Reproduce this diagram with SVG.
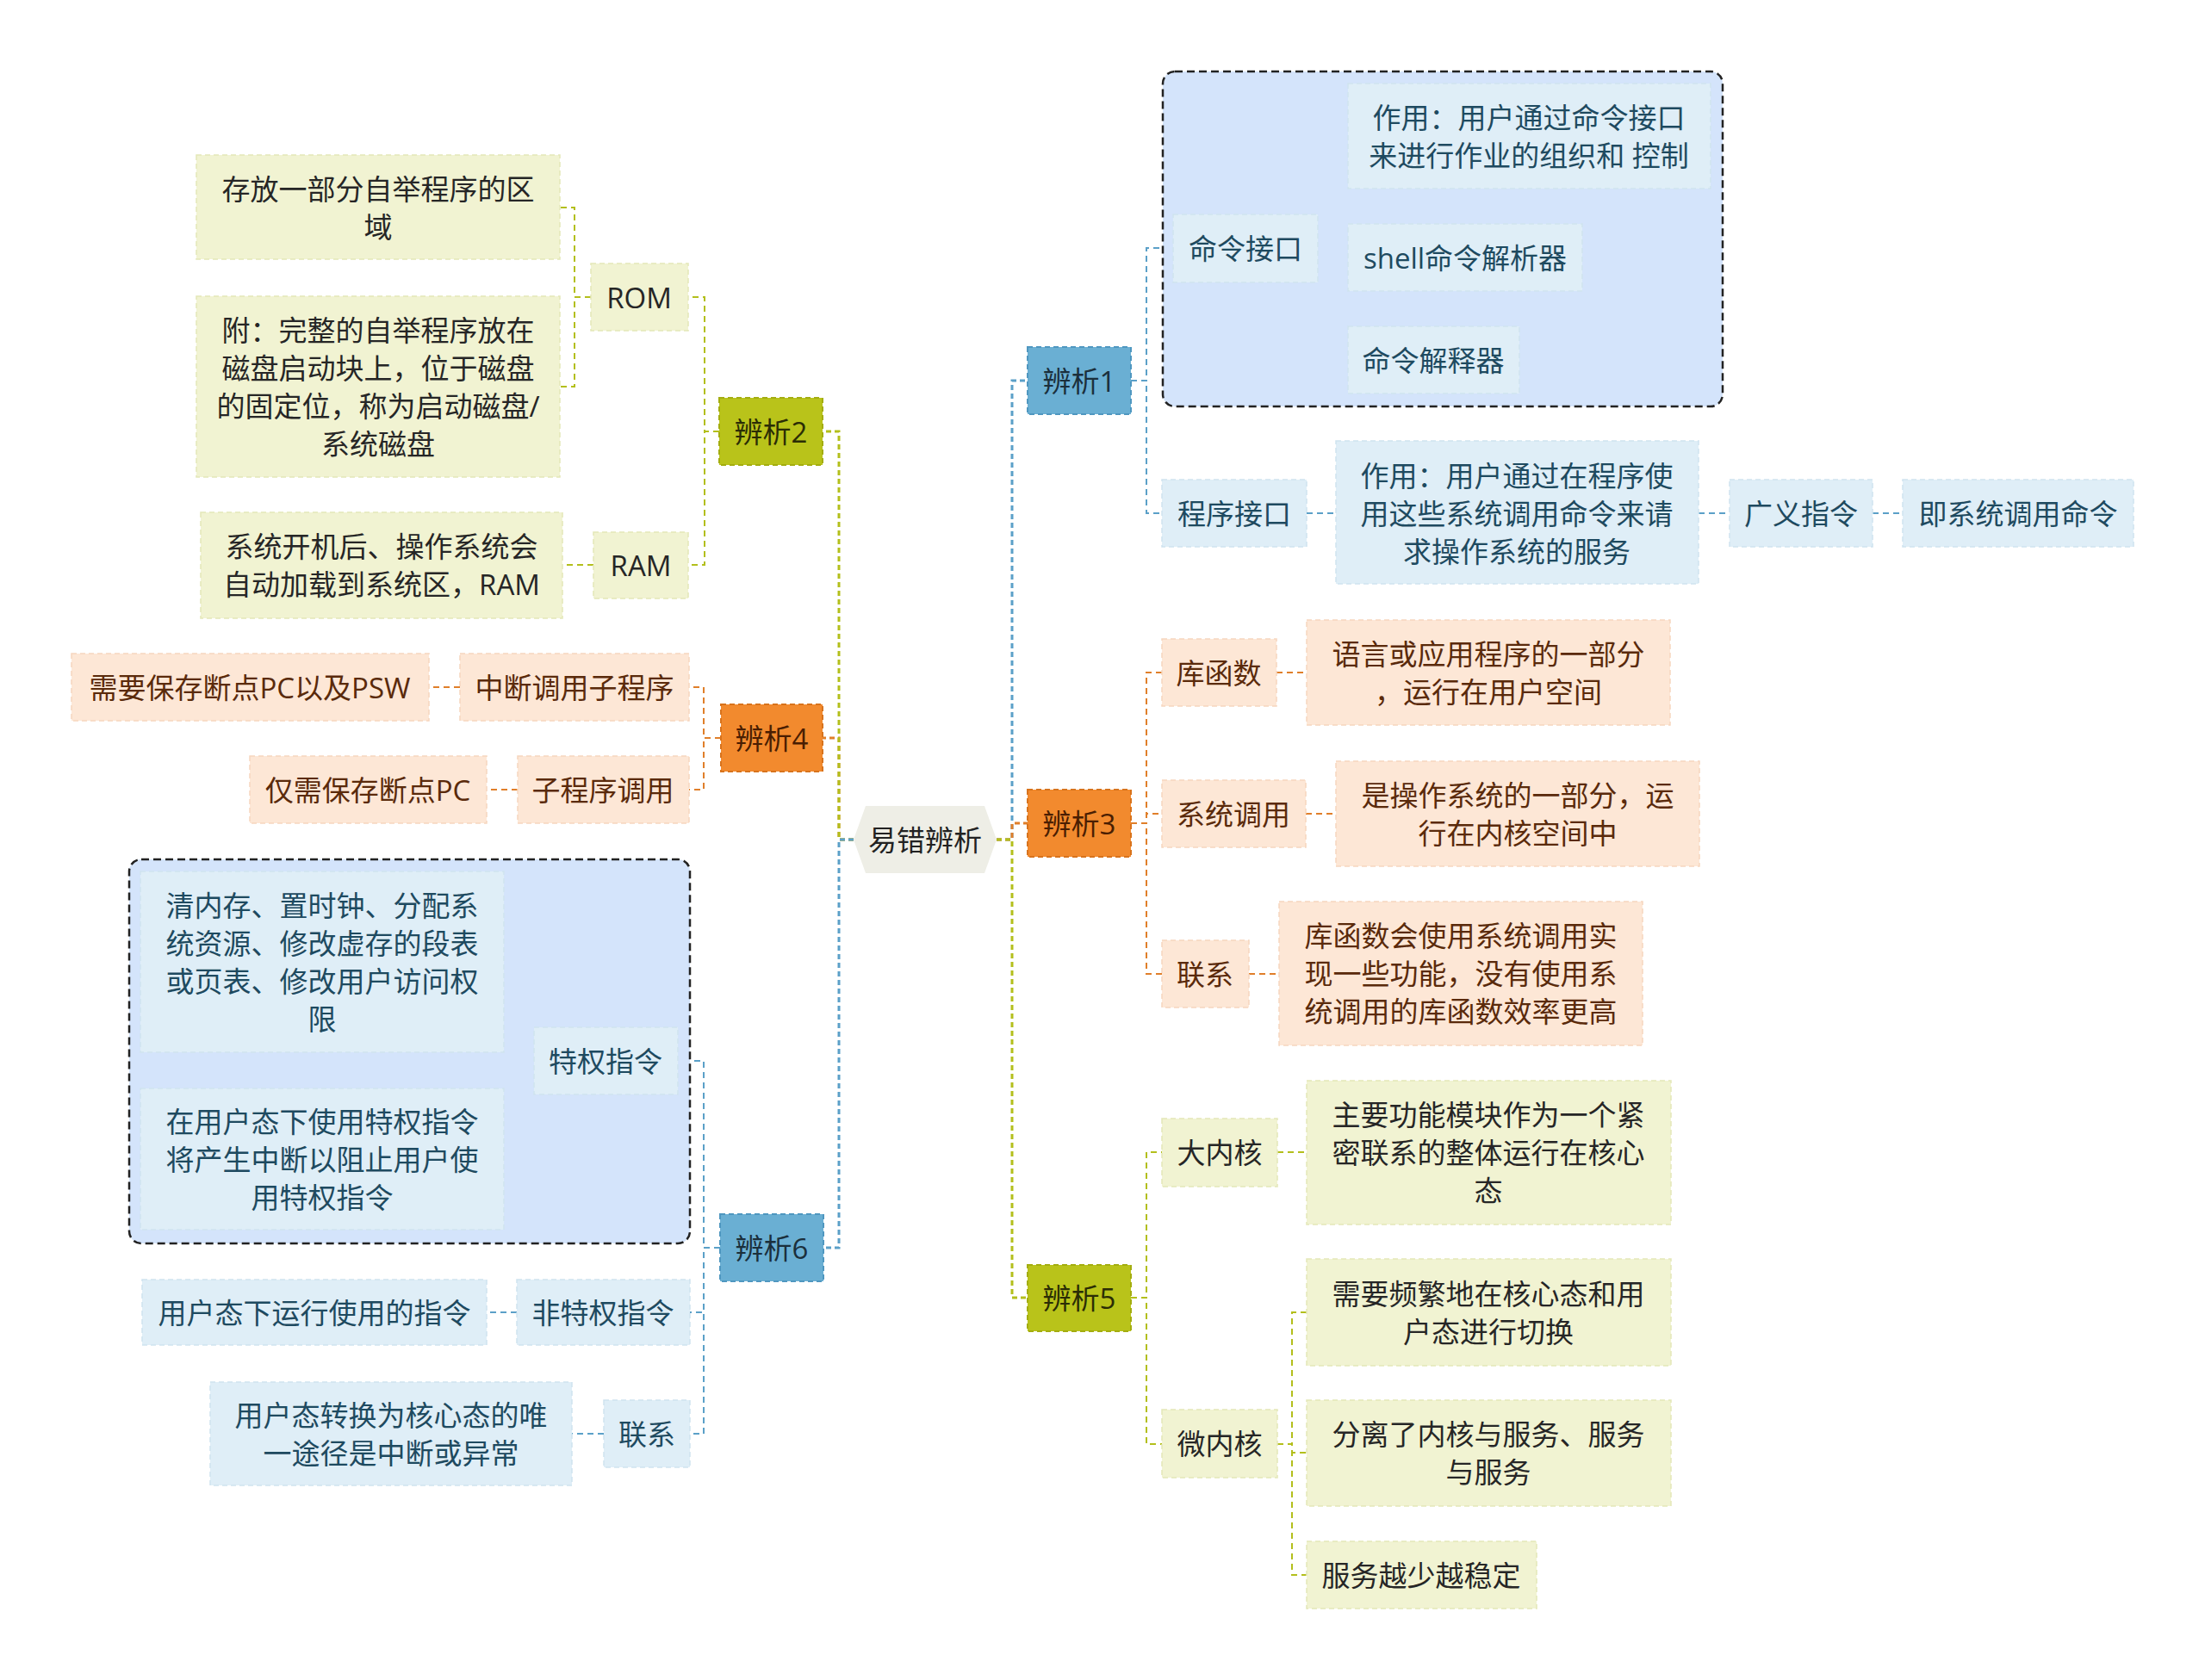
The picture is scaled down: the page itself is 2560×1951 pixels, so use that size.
<svg xmlns="http://www.w3.org/2000/svg" width="2560" height="1951" viewBox="0 0 2560 1951">
<style>
text{font-family:'Open Sans','Noto Sans CJK SC',sans-serif;font-size:33px;text-anchor:middle;dominant-baseline:central}
.hex{fill:#eeeee6}
.ctext{fill:#222}
.b1{fill:#6aafd3;stroke:#4f97c0;stroke-width:2;stroke-dasharray:6 4}
.o1{fill:#f28a2e;stroke:#d8731c;stroke-width:2;stroke-dasharray:6 4}
.g1{fill:#b9c31a;stroke:#a3ad10;stroke-width:2;stroke-dasharray:6 4}
.b2{fill:#dfeef7;stroke:#cfe3ef;stroke-width:1.5;stroke-dasharray:6 4}
.o2{fill:#fde7d6;stroke:#f6d6bf;stroke-width:1.5;stroke-dasharray:6 4}
.g2{fill:#f1f3d2;stroke:#e3e7b8;stroke-width:1.5;stroke-dasharray:6 4}
.grp{fill:#d4e4fb;stroke:#222;stroke-width:2.5;stroke-dasharray:9 5}
.tb1{fill:#1b2f3c}
.to1{fill:#4a1e02}
.tg1{fill:#2b2d05}
.tb2{fill:#1e4a60}
.to2{fill:#5a2a0b}
.tg2{fill:#262626}
.cm{fill:none;stroke-width:3;stroke-dasharray:6 4}
.cs{fill:none;stroke-width:2;stroke-dasharray:7 5}
.cb{stroke:#5ba0c8}
.co{stroke:#e07f2a}
.cg{stroke:#b3bf1c}
</style>
<rect width="2560" height="1951" fill="#ffffff"/>

<g id="connectors">
  <path class="cm co" d="M991,975 H974 V857 H837"/>
  <path class="cm cg" d="M991,975 H974 V501 H835"/>
  <path class="cm cb" d="M991,975 H974 V1449 H836"/>
  <path class="cm cb" d="M1157,975 H1175 V442 H1193"/>
  <path class="cm co" d="M1157,975 H1175 V956 H1193"/>
  <path class="cm cg" d="M1157,975 H1175 V1507 H1193"/>

  <path class="cs cb" d="M1313,442 H1331 V288 H1362"/>
  <path class="cs cb" d="M1313,442 H1331 V596 H1349"/>
  <path class="cs cb" d="M1530,288 H1547 V158 H1565"/>
  <path class="cs cb" d="M1530,288 H1547 V299 H1565"/>
  <path class="cs cb" d="M1530,288 H1547 V418 H1565"/>
  <path class="cs cb" d="M1517,596 H1551"/>
  <path class="cs cb" d="M1972,596 H2008"/>
  <path class="cs cb" d="M2174,596 H2209"/>

  <path class="cs co" d="M1313,956 H1331 V781 H1349"/>
  <path class="cs co" d="M1313,956 H1331 V945 H1349"/>
  <path class="cs co" d="M1313,956 H1331 V1131 H1349"/>
  <path class="cs co" d="M1482,781 H1517"/>
  <path class="cs co" d="M1516,945 H1551"/>
  <path class="cs co" d="M1450,1131 H1485"/>

  <path class="cs cg" d="M1313,1507 H1331 V1338 H1349"/>
  <path class="cs cg" d="M1313,1507 H1331 V1677 H1349"/>
  <path class="cs cg" d="M1483,1338 H1517"/>
  <path class="cs cg" d="M1483,1677 H1500 V1524 H1517"/>
  <path class="cs cg" d="M1483,1677 H1500 V1687 H1517"/>
  <path class="cs cg" d="M1483,1677 H1500 V1829 H1517"/>

  <path class="cs cg" d="M835,501 H818 V345 H799"/>
  <path class="cs cg" d="M835,501 H818 V656 H799"/>
  <path class="cs cg" d="M686,345 H667 V241 H650"/>
  <path class="cs cg" d="M686,345 H667 V449 H650"/>
  <path class="cs cg" d="M689,656 H653"/>

  <path class="cs co" d="M837,857 H817 V798 H800"/>
  <path class="cs co" d="M837,857 H817 V917 H800"/>
  <path class="cs co" d="M534,798 H498"/>
  <path class="cs co" d="M601,917 H565"/>

  <path class="cs cb" d="M836,1449 H817 V1232 H787"/>
  <path class="cs cb" d="M836,1449 H817 V1524 H801"/>
  <path class="cs cb" d="M836,1449 H817 V1665 H801"/>
  <path class="cs cb" d="M620,1232 H602 V1117 H585"/>
  <path class="cs cb" d="M620,1232 H602 V1346 H585"/>
  <path class="cs cb" d="M600,1524 H565"/>
  <path class="cs cb" d="M701,1665 H664"/>
</g>

<g id="group-cmd"><rect class="grp" x="1350" y="83" width="650" height="389" rx="14"/></g>
<g id="group-priv"><rect class="grp" x="150" y="998" width="651" height="446" rx="14"/></g>

<g id="root">
  <polygon class="hex" points="991,975 1005,936 1143,936 1157,975 1143,1014 1005,1014"/>
  <text class="ctext" x="1074" y="975">易错辨析</text>
</g>

<g id="n-bx1"><rect class="b1" x="1193" y="403" width="120" height="78"/><text class="tb1" x="1253" y="442">辨析1</text></g>
<g id="n-cmdif"><rect class="b2" x="1362" y="249" width="168" height="79"/><text class="tb2" x="1446" y="288">命令接口</text></g>
<g id="n-cmduse"><rect class="b2" x="1565" y="97" width="421" height="122"/><text class="tb2" x="1775" y="136">作用：用户通过命令接口</text><text class="tb2" x="1775" y="180">来进行作业的组织和 控制</text></g>
<g id="n-shell"><rect class="b2" x="1565" y="260" width="272" height="78"/><text class="tb2" x="1701" y="299">shell命令解析器</text></g>
<g id="n-interp"><rect class="b2" x="1565" y="379" width="199" height="78"/><text class="tb2" x="1664" y="418">命令解释器</text></g>
<g id="n-progif"><rect class="b2" x="1349" y="557" width="168" height="78"/><text class="tb2" x="1433" y="596">程序接口</text></g>
<g id="n-proguse"><rect class="b2" x="1551" y="512" width="421" height="166"/><text class="tb2" x="1761" y="552">作用：用户通过在程序使</text><text class="tb2" x="1761" y="596">用这些系统调用命令来请</text><text class="tb2" x="1761" y="640">求操作系统的服务</text></g>
<g id="n-general"><rect class="b2" x="2008" y="557" width="166" height="78"/><text class="tb2" x="2091" y="596">广义指令</text></g>
<g id="n-syscallcmd"><rect class="b2" x="2209" y="557" width="268" height="78"/><text class="tb2" x="2343" y="596">即系统调用命令</text></g>

<g id="n-bx3"><rect class="o1" x="1193" y="917" width="120" height="78"/><text class="to1" x="1253" y="956">辨析3</text></g>
<g id="n-libfn"><rect class="o2" x="1349" y="742" width="133" height="78"/><text class="to2" x="1415" y="781">库函数</text></g>
<g id="n-libdesc"><rect class="o2" x="1517" y="720" width="422" height="122"/><text class="to2" x="1728" y="759">语言或应用程序的一部分</text><text class="to2" x="1728" y="803">，运行在用户空间</text></g>
<g id="n-syscall"><rect class="o2" x="1349" y="906" width="167" height="78"/><text class="to2" x="1432" y="945">系统调用</text></g>
<g id="n-sysdesc"><rect class="o2" x="1551" y="884" width="422" height="122"/><text class="to2" x="1762" y="923">是操作系统的一部分，运</text><text class="to2" x="1762" y="967">行在内核空间中</text></g>
<g id="n-rel3"><rect class="o2" x="1349" y="1092" width="101" height="78"/><text class="to2" x="1399" y="1131">联系</text></g>
<g id="n-rel3desc"><rect class="o2" x="1485" y="1047" width="422" height="167"/><text class="to2" x="1696" y="1086">库函数会使用系统调用实</text><text class="to2" x="1696" y="1130">现一些功能，没有使用系</text><text class="to2" x="1696" y="1174">统调用的库函数效率更高</text></g>

<g id="n-bx5"><rect class="g1" x="1193" y="1469" width="120" height="77"/><text class="tg1" x="1253" y="1507">辨析5</text></g>
<g id="n-bigk"><rect class="g2" x="1349" y="1299" width="134" height="79"/><text class="tg2" x="1416" y="1338">大内核</text></g>
<g id="n-bigkdesc"><rect class="g2" x="1517" y="1255" width="423" height="167"/><text class="tg2" x="1728" y="1294">主要功能模块作为一个紧</text><text class="tg2" x="1728" y="1338">密联系的整体运行在核心</text><text class="tg2" x="1728" y="1382">态</text></g>
<g id="n-microk"><rect class="g2" x="1349" y="1637" width="134" height="79"/><text class="tg2" x="1416" y="1676">微内核</text></g>
<g id="n-mk1"><rect class="g2" x="1517" y="1462" width="423" height="124"/><text class="tg2" x="1728" y="1502">需要频繁地在核心态和用</text><text class="tg2" x="1728" y="1546">户态进行切换</text></g>
<g id="n-mk2"><rect class="g2" x="1517" y="1626" width="423" height="123"/><text class="tg2" x="1728" y="1665">分离了内核与服务、服务</text><text class="tg2" x="1728" y="1709">与服务</text></g>
<g id="n-mk3"><rect class="g2" x="1517" y="1790" width="267" height="78"/><text class="tg2" x="1650" y="1829">服务越少越稳定</text></g>

<g id="n-bx2"><rect class="g1" x="835" y="462" width="120" height="78"/><text class="tg1" x="895" y="501">辨析2</text></g>
<g id="n-rom"><rect class="g2" x="686" y="306" width="113" height="78"/><text class="tg2" x="742" y="345">ROM</text></g>
<g id="n-rom1"><rect class="g2" x="228" y="180" width="422" height="121"/><text class="tg2" x="439" y="219">存放一部分自举程序的区</text><text class="tg2" x="439" y="263">域</text></g>
<g id="n-rom2"><rect class="g2" x="228" y="344" width="422" height="210"/><text class="tg2" x="439" y="383">附：完整的自举程序放在</text><text class="tg2" x="439" y="427">磁盘启动块上，位于磁盘</text><text class="tg2" x="439" y="471">的固定位，称为启动磁盘/</text><text class="tg2" x="439" y="515">系统磁盘</text></g>
<g id="n-ram"><rect class="g2" x="689" y="618" width="110" height="77"/><text class="tg2" x="744" y="656">RAM</text></g>
<g id="n-ram1"><rect class="g2" x="233" y="595" width="420" height="123"/><text class="tg2" x="443" y="634">系统开机后、操作系统会</text><text class="tg2" x="443" y="678">自动加载到系统区，RAM</text></g>

<g id="n-bx4"><rect class="o1" x="837" y="818" width="118" height="78"/><text class="to1" x="896" y="857">辨析4</text></g>
<g id="n-intsub"><rect class="o2" x="534" y="759" width="266" height="78"/><text class="to2" x="667" y="798">中断调用子程序</text></g>
<g id="n-intsave"><rect class="o2" x="83" y="759" width="415" height="78"/><text class="to2" x="290" y="798">需要保存断点PC以及PSW</text></g>
<g id="n-subcall"><rect class="o2" x="601" y="878" width="199" height="78"/><text class="to2" x="700" y="917">子程序调用</text></g>
<g id="n-subsave"><rect class="o2" x="290" y="878" width="275" height="78"/><text class="to2" x="427" y="917">仅需保存断点PC</text></g>

<g id="n-bx6"><rect class="b1" x="836" y="1410" width="120" height="78"/><text class="tb1" x="896" y="1449">辨析6</text></g>
<g id="n-priv"><rect class="b2" x="620" y="1193" width="167" height="78"/><text class="tb2" x="703" y="1232">特权指令</text></g>
<g id="n-priv1"><rect class="b2" x="163" y="1012" width="422" height="210"/><text class="tb2" x="374" y="1051">清内存、置时钟、分配系</text><text class="tb2" x="374" y="1095">统资源、修改虚存的段表</text><text class="tb2" x="374" y="1139">或页表、修改用户访问权</text><text class="tb2" x="374" y="1183">限</text></g>
<g id="n-priv2"><rect class="b2" x="163" y="1264" width="422" height="164"/><text class="tb2" x="374" y="1302">在用户态下使用特权指令</text><text class="tb2" x="374" y="1346">将产生中断以阻止用户使</text><text class="tb2" x="374" y="1390">用特权指令</text></g>
<g id="n-nonpriv"><rect class="b2" x="600" y="1486" width="201" height="76"/><text class="tb2" x="700" y="1524">非特权指令</text></g>
<g id="n-nonpriv1"><rect class="b2" x="165" y="1486" width="400" height="76"/><text class="tb2" x="365" y="1524">用户态下运行使用的指令</text></g>
<g id="n-rel6"><rect class="b2" x="701" y="1626" width="100" height="78"/><text class="tb2" x="751" y="1665">联系</text></g>
<g id="n-rel6desc"><rect class="b2" x="244" y="1605" width="420" height="120"/><text class="tb2" x="454" y="1643">用户态转换为核心态的唯</text><text class="tb2" x="454" y="1687">一途径是中断或异常</text></g>
</svg>
